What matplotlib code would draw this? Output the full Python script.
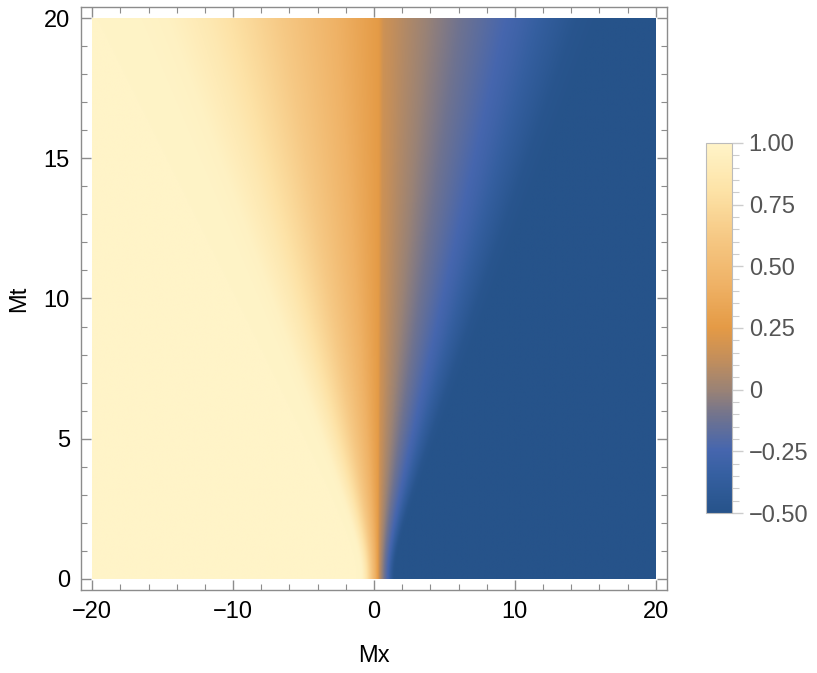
import numpy as np
import matplotlib
matplotlib.use("Agg")
import matplotlib.pyplot as plt
from matplotlib.colors import LinearSegmentedColormap
from matplotlib.ticker import MultipleLocator, FixedLocator

# Similarity profile: value vs xi = Mx / Mt
xi_profile = [-1.2, -0.85, -0.75, -0.6, -0.45, -0.3, -0.15, -0.02, 0.0, 0.02,
              0.1, 0.2, 0.3, 0.4, 0.5, 0.6, 0.7, 0.8]
value_profile = [1.0, 0.99, 0.97, 0.87, 0.73, 0.58, 0.43, 0.28, 0.26, 0.16,
                 0.07, -0.03, -0.12, -0.2, -0.28, -0.38, -0.47, -0.5]

mx_range = [-20, 20]
mt_range = [0, 20]
cbar_ticks = [-0.5, -0.25, 0, 0.25, 0.5, 0.75, 1.0]
cbar_labels = ["\u22120.50", "\u22120.25", "0", "0.25", "0.50", "0.75", "1.00"]
x_ticks = [-20, -10, 0, 10, 20]
x_labels = ["\u221220", "\u221210", "0", "10", "20"]
y_ticks = [0, 5, 10, 15, 20]

# colormap (approximate Mathematica default density gradient)
cmap_stops = [
    (0.00, "#26538a"),
    (0.10, "#355fa0"),
    (0.17, "#4666ae"),
    (0.26, "#70738f"),
    (0.33, "#998276"),
    (0.42, "#c58f5a"),
    (0.50, "#e49a45"),
    (0.62, "#efb266"),
    (0.75, "#f6c985"),
    (0.87, "#fde2a6"),
    (1.00, "#fff4c8"),
]
cmap = LinearSegmentedColormap.from_list("m10", cmap_stops)

nx, ny = 1000, 600
mx = np.linspace(mx_range[0], mx_range[1], nx)
mt = np.linspace(mt_range[0], mt_range[1], ny + 1)[1:] - 0.5 * (mt_range[1] - mt_range[0]) / ny
MX, MT = np.meshgrid(mx, mt)
# slight smoothing near Mt = 0, like the sampled reference
XI = (MX - 0.3) / np.sqrt(MT ** 2 + 1.5 ** 2)
Z = np.interp(XI, xi_profile, value_profile)

plt.rcParams['font.family'] = ['Liberation Sans', 'DejaVu Sans']

fig = plt.figure(figsize=(8.17, 6.73), dpi=100)
ax = fig.add_axes([81 / 817, 1 - 590 / 673, 586 / 817, 583 / 673])
im = ax.imshow(Z, origin="lower", extent=[mx_range[0], mx_range[1], mt_range[0], mt_range[1]],
               cmap=cmap, vmin=-0.5, vmax=1.0, aspect="auto", interpolation="bilinear")
ax.set_xlim(-20.8, 20.8)
ax.set_ylim(-0.4, 20.4)

frame_color = "#8c8c8c"
for s in ax.spines.values():
    s.set_color(frame_color)
    s.set_linewidth(1.0)
ax.set_xticks(x_ticks)
ax.set_xticklabels(x_labels)
ax.set_yticks(y_ticks)
ax.xaxis.set_minor_locator(MultipleLocator(2))
ax.yaxis.set_minor_locator(MultipleLocator(1))
ax.tick_params(which="both", direction="in", top=True, right=True, color=frame_color,
               labelsize=17, labelcolor="black")
ax.tick_params(which="major", length=7, width=1.0, pad=8)
ax.tick_params(which="minor", length=4, width=0.8)
ax.set_xlabel("Mx", fontsize=17, labelpad=16)
ax.set_ylabel("Mt", fontsize=17, labelpad=10)

cax = fig.add_axes([706 / 817, 1 - 513 / 673, 26 / 817, 370 / 673])
cb = fig.colorbar(im, cax=cax)
cb.outline.set_edgecolor("#bbbbbb")
cb.outline.set_linewidth(0.8)
cb.set_ticks(cbar_ticks)
cb.set_ticklabels(cbar_labels)
cax.yaxis.set_minor_locator(FixedLocator(np.arange(-0.5, 1.0001, 0.05)))
cax.tick_params(which="both", direction="out", color="#cccccc", labelcolor="#555555", labelsize=17)
cax.tick_params(which="major", length=8, width=1.0, pad=4)
cax.tick_params(which="minor", length=5, width=0.8)

fig.savefig("out.png", dpi=100)
